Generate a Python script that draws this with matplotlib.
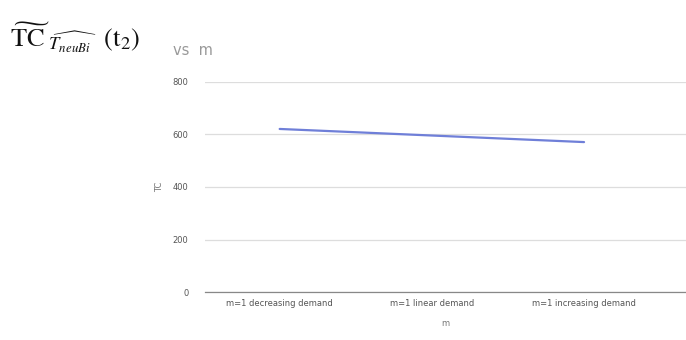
import matplotlib.pyplot as plt

plt.rcParams['mathtext.fontset'] = 'stix'

# TC vs m for the three demand patterns
categories = ['m=1 decreasing demand', 'm=1 linear demand', 'm=1 increasing demand']
tc_values = [621, 596, 571]
y_ticks = [0, 200, 400, 600, 800]

fig = plt.figure(figsize=(6.86, 3.40), dpi=100)
ax = fig.add_axes([0.299, 0.141, 0.701, 0.618])

x = list(range(len(categories)))
ax.plot(x, tc_values, color='#6f7fd8', linewidth=1.6, solid_capstyle='round')

ax.set_xlim(-0.49, 2.67)
ax.set_ylim(0, 800)
ax.set_xticks(x)
ax.set_xticklabels(categories, fontsize=6, color='#555555')
ax.set_yticks(y_ticks)
ax.set_yticklabels([str(v) for v in y_ticks], fontsize=6, color='#555555')
ax.tick_params(axis='x', length=0, pad=5)
ax.tick_params(axis='y', length=0, pad=12)

ax.grid(axis='y', color='#dddddd', linewidth=0.9)
ax.set_axisbelow(True)
for s in ['top', 'right', 'left']:
    ax.spines[s].set_visible(False)
ax.spines['bottom'].set_color('#888888')
ax.spines['bottom'].set_linewidth(0.9)

ax.set_xlabel('m', fontsize=6, color='#777777', labelpad=8)
ax.set_ylabel('TC', fontsize=6, color='#777777', labelpad=6)

# title: math part in black, "vs m" in gray
fig.text(0.014, 0.862,
         r'$\widetilde{\mathrm{TC}}_{\ \widehat{T_{neuBi}}}\ \ (\mathrm{t}_2)$',
         fontsize=19, color='#111111', va='baseline')
fig.text(0.252, 0.838, 'vs  m', fontsize=10.5, color='#999999', va='baseline')

fig.savefig('out.png', dpi=100, facecolor='white')
